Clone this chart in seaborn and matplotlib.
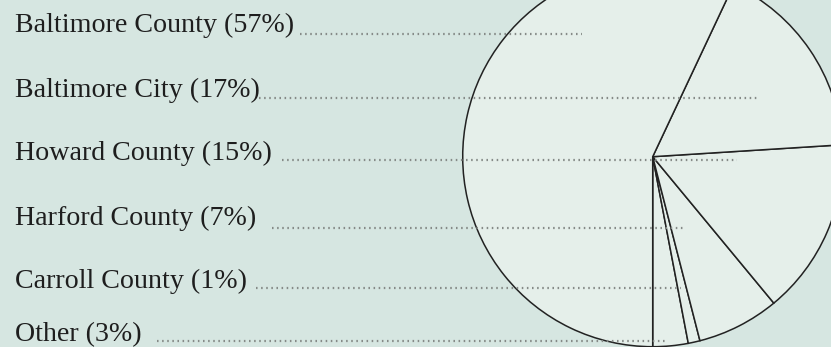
import matplotlib
matplotlib.use("Agg")
import matplotlib.pyplot as plt
import seaborn as sns

# Data (pie order: counter-clockwise starting at the bottom)
categories = ["Other", "Carroll County", "Harford County", "Howard County",
              "Baltimore City", "Baltimore County"]
shares = [3, 1, 7, 15, 17, 57]

# Label list (top to bottom)
label_text = ["Baltimore County (57%)", "Baltimore City (17%)", "Howard County (15%)",
              "Harford County (7%)", "Carroll County (1%)", "Other (3%)"]

sns.set_style("white")
plt.rcParams['font.family'] = ['Liberation Serif', 'DejaVu Serif']

W, H = 831, 347
BG = "#d6e6e1"
fig = plt.figure(figsize=(W / 100, H / 100), dpi=100, facecolor=BG)
ax = fig.add_axes([0, 0, 1, 1])
ax.set_facecolor(BG)

cx, cy, r = 652.7, H - 156.7, 190
ax.pie(shares, startangle=-90, counterclock=True, center=(cx, cy), radius=r,
       colors=["#e5efea"] * len(shares),
       wedgeprops=dict(edgecolor="#222222", linewidth=1.1), frame=True)

# label rows: baseline y (px), dotted start, dotted end, dotted y
baselines = [32, 97, 160, 225, 288, 341]
dot_start = [300, 259, 282, 272, 256, 157]
dot_end = [582, 758, 737, 684, 681, 668]
dot_y = [34, 97.5, 160, 228, 288, 341]

for txt, b, s, e, dy in zip(label_text, baselines, dot_start, dot_end, dot_y):
    ax.text(15, H - b, txt, fontsize=20.2, color="#1e1e1e", va="baseline", ha="left")
    ax.plot([s, e], [H - dy, H - dy], color="#858a87", linewidth=1.6,
            linestyle=(0, (0.7, 1.6)), dash_capstyle="butt", zorder=5)

ax.set_xlim(0, W)
ax.set_ylim(0, H)
ax.set_aspect("equal")
ax.axis("off")
fig.savefig("out.png", dpi=100, facecolor=BG)
